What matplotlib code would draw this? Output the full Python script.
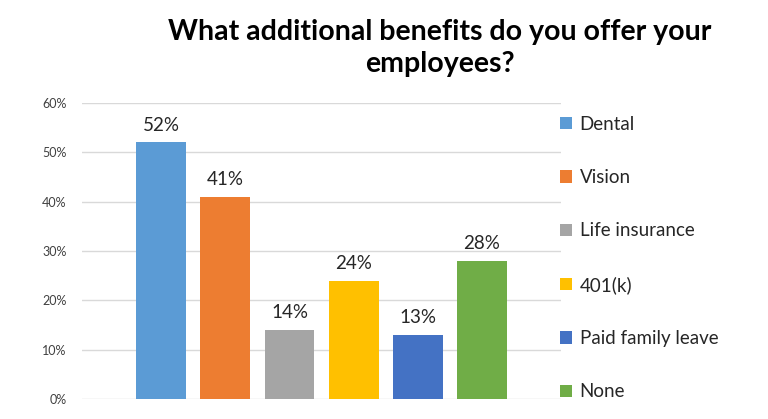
import matplotlib
matplotlib.use("Agg")
import matplotlib.pyplot as plt
from matplotlib.ticker import PercentFormatter

plt.rcParams['font.family'] = ['Lato', 'DejaVu Sans']

categories = ["Dental", "Vision", "Life insurance", "401(k)", "Paid family leave", "None"]
values = [52, 41, 14, 24, 13, 28]
colors = ["#5B9BD5", "#ED7D31", "#A5A5A5", "#FFC000", "#4472C4", "#70AD47"]
yticks = [0, 10, 20, 30, 40, 50, 60]

fig = plt.figure(figsize=(7.68, 4.19), dpi=100)
ax = fig.add_axes([0.1068, 0.0477, 0.6237, 0.7065])

for i, (cat, val, col) in enumerate(zip(categories, values, colors)):
    ax.bar(i, val, width=0.78, color=col, label=cat, zorder=3)
    ax.text(i, val + 1.8, f"{val}%", ha='center', va='bottom',
            fontsize=13.5, color='#262626')

ax.set_xlim(-1.24, 6.24)
ax.set_ylim(0, 60)
ax.set_yticks(yticks)
ax.yaxis.set_major_formatter(PercentFormatter(decimals=0))
ax.set_xticks([])
ax.grid(axis='y', color='#d9d9d9', linewidth=1, zorder=0)
for s in ax.spines.values():
    s.set_visible(False)
ax.tick_params(axis='y', length=0, pad=11, labelsize=9, labelcolor='#404040')

fig.text(0.573, 0.885, "What additional benefits do you offer your\nemployees?",
         ha='center', va='center', fontsize=20.5, fontweight='bold',
         linespacing=1.28, color='black')

fig.legend(loc='center left', bbox_to_anchor=(0.729, 0.384), frameon=False,
           fontsize=13.5, handlelength=0.65, handleheight=0.65, handletextpad=0.4,
           labelspacing=1.94, borderpad=0, borderaxespad=0, labelcolor='#262626')

plt.savefig("out.png", dpi=100)
